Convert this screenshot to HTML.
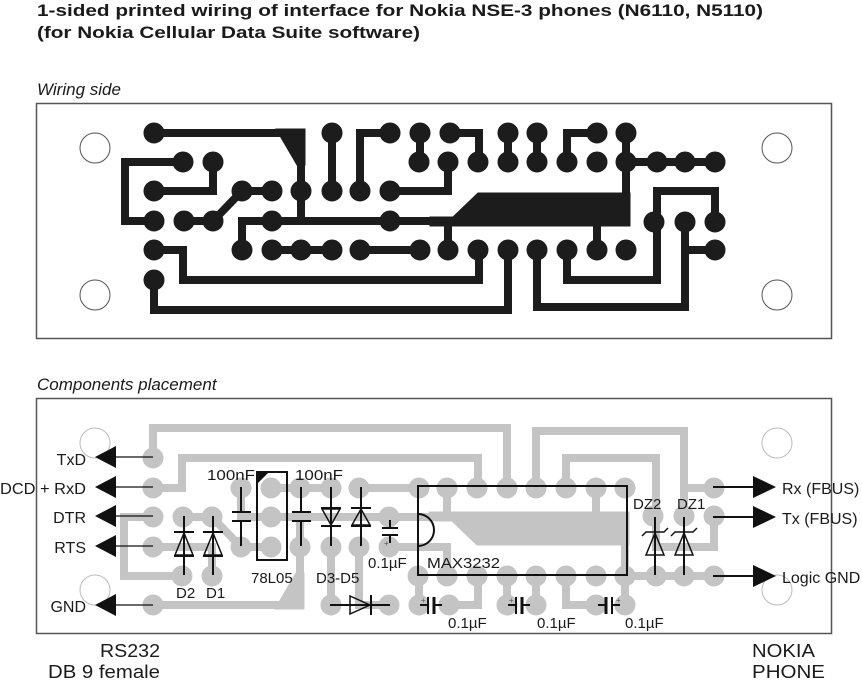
<!DOCTYPE html>
<html><head><meta charset="utf-8"><style>
html,body{margin:0;padding:0;background:#fff;}
svg{display:block;font-family:"Liberation Sans",Arial,sans-serif;}
</style></head><body>
<svg width="862" height="680" viewBox="0 0 862 680" xmlns="http://www.w3.org/2000/svg">
<defs>
<g id="pcb">
 <g fill="none" stroke-width="8" stroke-linejoin="miter">
  <polyline points="154,133 301,133 301,221"/>
  <polyline points="332,133 332,191"/>
  <polyline points="390,133 360,133 360,191"/>
  <polyline points="420,133 420,162"/>
  <polyline points="450,133 479,133 479,162"/>
  <polyline points="508,133 508,162"/>
  <polyline points="537,133 537,162"/>
  <polyline points="597,133 567,133 567,162"/>
  <polyline points="626,133 626,215"/>
  <polyline points="626,162 715,162"/>
  <polyline points="390,191 448,191 448,162"/>
  <polyline points="183,162 125,162 125,221 154,221"/>
  <polyline points="213,162 213,191 154,191"/>
  <polyline points="184,221 213,221 242,191 272,191"/>
  <polyline points="242,250 242,221 450,221"/>
  <polyline points="448,221 448,250"/>
  <polyline points="597,215 597,250"/>
  <polyline points="272,250 332,250"/>
  <polyline points="360,250 420,250"/>
  <polyline points="154,250 183,250 183,280 479,280 479,250"/>
  <polyline points="154,280 154,310 508,310 508,250"/>
  <polyline points="537,250 537,307 685,307 685,222"/>
  <polyline points="567,250 567,280 657,280 657,191 715,191 715,222"/>
  <polyline points="685,222 685,250 715,250"/>
 </g>
 <polygon points="276,129 305,129 305,165 297,165"/>
 <polygon points="453,217 478,193 630,193 630,226 430,226 430,217"/>
 <g>
  <circle cx="154" cy="133" r="10"/><circle cx="332" cy="133" r="10"/><circle cx="390" cy="133" r="10"/><circle cx="420" cy="133" r="10"/><circle cx="450" cy="133" r="10"/><circle cx="508" cy="133" r="10"/><circle cx="537" cy="133" r="10"/><circle cx="597" cy="133" r="10"/><circle cx="626" cy="133" r="10"/>
  <circle cx="183" cy="162" r="10"/><circle cx="213" cy="162" r="10"/><circle cx="419" cy="162" r="10"/><circle cx="448" cy="162" r="10"/><circle cx="478" cy="162" r="10"/><circle cx="508" cy="162" r="10"/><circle cx="537" cy="162" r="10"/><circle cx="567" cy="162" r="10"/><circle cx="597" cy="162" r="10"/><circle cx="626" cy="162" r="10"/><circle cx="657" cy="162" r="10"/><circle cx="685" cy="162" r="10"/><circle cx="715" cy="162" r="10"/>
  <circle cx="154" cy="191" r="10"/><circle cx="242" cy="191" r="10"/><circle cx="272" cy="191" r="10"/><circle cx="301" cy="191" r="10"/><circle cx="332" cy="191" r="10"/><circle cx="360" cy="191" r="10"/><circle cx="390" cy="191" r="10"/>
  <circle cx="154" cy="221" r="10"/><circle cx="184" cy="221" r="10"/><circle cx="213" cy="221" r="10"/><circle cx="272" cy="221" r="10"/><circle cx="390" cy="221" r="10"/><circle cx="654" cy="222" r="10"/><circle cx="685" cy="222" r="10"/><circle cx="715" cy="222" r="10"/>
  <circle cx="154" cy="250" r="10"/><circle cx="242" cy="250" r="10"/><circle cx="272" cy="250" r="10"/><circle cx="301" cy="250" r="10"/><circle cx="332" cy="250" r="10"/><circle cx="360" cy="250" r="10"/><circle cx="420" cy="250" r="10"/><circle cx="448" cy="250" r="10"/><circle cx="478" cy="250" r="10"/><circle cx="508" cy="250" r="10"/><circle cx="537" cy="250" r="10"/><circle cx="567" cy="250" r="10"/><circle cx="597" cy="250" r="10"/><circle cx="626" cy="250" r="10"/><circle cx="715" cy="250" r="10"/>
  <circle cx="154" cy="280" r="10"/>
 </g>
</g>
</defs>

<text x="37" y="16" font-size="17" font-weight="bold" fill="#1a1a1a" textLength="726" lengthAdjust="spacingAndGlyphs">1-sided printed wiring of interface for Nokia NSE-3 phones (N6110, N5110)</text>
<text x="37" y="38" font-size="17" font-weight="bold" fill="#1a1a1a" textLength="383" lengthAdjust="spacingAndGlyphs">(for Nokia Cellular Data Suite software)</text>
<text x="37" y="95" font-size="17" font-style="italic" fill="#1a1a1a">Wiring side</text>
<text x="37" y="390" font-size="17" font-style="italic" fill="#1a1a1a">Components placement</text>

<!-- top board -->
<rect x="36.5" y="103.5" width="795" height="235" fill="none" stroke="#555" stroke-width="1.5"/>
<g fill="none" stroke="#555" stroke-width="1"><circle cx="95" cy="148" r="15"/><circle cx="95" cy="295" r="15"/><circle cx="777" cy="148" r="15"/><circle cx="777" cy="295" r="15"/></g>
<use href="#pcb" fill="#1c1c1c" stroke="#1c1c1c"/>

<!-- bottom board -->
<rect x="36.5" y="398.5" width="795" height="235" fill="none" stroke="#555" stroke-width="1.5"/>
<g fill="none" stroke="#bbb" stroke-width="1"><circle cx="95" cy="443" r="15"/><circle cx="95" cy="590" r="15"/><circle cx="777" cy="443" r="15"/><circle cx="777" cy="590" r="15"/></g>
<g transform="translate(-1,738) scale(1,-1)"><use href="#pcb" fill="#c4c4c4" stroke="#c4c4c4"/></g>

<g stroke="#111" fill="none" stroke-width="1.3">
 <line x1="153" y1="457" x2="112" y2="457"/><line x1="153" y1="487" x2="112" y2="487"/><line x1="153" y1="516" x2="112" y2="516"/><line x1="153" y1="546" x2="112" y2="546"/><line x1="153" y1="605" x2="112" y2="605"/>
 <line x1="713" y1="487" x2="756" y2="487" stroke-width="2"/><line x1="713" y1="517" x2="756" y2="517" stroke-width="2"/><line x1="713" y1="576" x2="756" y2="576" stroke-width="2"/>
</g>
<g fill="#111">
 <polygon points="95,457 116,446 116,468"/><polygon points="95,487 116,476 116,498"/><polygon points="95,516 116,505 116,527"/><polygon points="95,546 116,535 116,557"/><polygon points="95,605 116,594 116,616"/>
 <polygon points="776,487 753,476 753,498"/><polygon points="776,517 753,506 753,528"/><polygon points="776,576 753,565 753,587"/>
</g>
<g font-size="16" fill="#1a1a1a" text-anchor="end">
 <text x="86" y="465">TxD</text><text x="86" y="494" textLength="86" lengthAdjust="spacingAndGlyphs">DCD + RxD</text><text x="86" y="523">DTR</text><text x="86" y="553">RTS</text><text x="86" y="612">GND</text>
</g>
<g font-size="16" fill="#1a1a1a">
 <text x="782" y="494">Rx (FBUS)</text><text x="782" y="524">Tx (FBUS)</text><text x="782" y="583">Logic GND</text>
</g>

<!-- components -->
<g stroke="#111" fill="none" stroke-width="2">
 <rect x="418" y="486" width="209" height="89"/>
 <path d="M418,514 A16,16 0 0 1 418,546"/>
 <rect x="257" y="472" width="30" height="88"/>
 <line x1="241" y1="487" x2="241" y2="512"/><line x1="241" y1="521" x2="241" y2="546"/>
 <line x1="232" y1="512" x2="251" y2="512"/><line x1="232" y1="521" x2="251" y2="521"/>
 <line x1="301" y1="487" x2="301" y2="512"/><line x1="301" y1="521" x2="301" y2="546"/>
 <line x1="292" y1="512" x2="311" y2="512"/><line x1="292" y1="521" x2="311" y2="521"/>
 <line x1="331" y1="487" x2="331" y2="546"/><line x1="321" y1="508" x2="341" y2="508"/>
 <polygon points="322,509 340,509 331,525" stroke-width="1.5"/><line x1="321" y1="526" x2="341" y2="526"/>
 <line x1="361" y1="487" x2="361" y2="546"/><line x1="351" y1="508" x2="371" y2="508"/>
 <polygon points="352,525 370,525 361,509" stroke-width="1.5"/><line x1="351" y1="526" x2="371" y2="526"/>
 <line x1="390" y1="520" x2="390" y2="528"/><line x1="390" y1="535" x2="390" y2="543"/>
 <line x1="382" y1="528" x2="398" y2="528"/><line x1="382" y1="535" x2="398" y2="535"/>
 <line x1="184" y1="516" x2="184" y2="575"/><line x1="174" y1="532" x2="194" y2="532"/>
 <polygon points="175,555 193,555 184,533" stroke-width="1.5"/><line x1="174" y1="556" x2="194" y2="556"/>
 <line x1="213" y1="516" x2="213" y2="575"/><line x1="203" y1="532" x2="223" y2="532"/>
 <polygon points="204,555 222,555 213,533" stroke-width="1.5"/><line x1="203" y1="556" x2="223" y2="556"/>
 <line x1="330" y1="605" x2="390" y2="605"/>
 <polygon points="350,596 350,614 370,605" stroke-width="1.5"/><line x1="371" y1="595" x2="371" y2="615"/>
 <line x1="420" y1="605" x2="427" y2="605"/><line x1="428" y1="597" x2="428" y2="614"/><line x1="434" y1="597" x2="434" y2="614" stroke-width="3"/><line x1="435" y1="605" x2="442" y2="605"/>
 <line x1="508" y1="605" x2="515" y2="605"/><line x1="516" y1="597" x2="516" y2="614"/><line x1="522" y1="597" x2="522" y2="614" stroke-width="3"/><line x1="523" y1="605" x2="530" y2="605"/>
 <line x1="598" y1="605" x2="605" y2="605"/><line x1="606" y1="597" x2="606" y2="614" stroke-width="3"/><line x1="612" y1="597" x2="612" y2="614"/><line x1="613" y1="605" x2="620" y2="605"/>
 <line x1="655" y1="517" x2="655" y2="575"/><polygon points="646,555 664,555 655,533" stroke-width="1.5"/>
 <polyline points="642,536 646,532 664,532 668,528" stroke-width="1.5"/>
 <line x1="684" y1="517" x2="684" y2="575"/><polygon points="675,555 693,555 684,533" stroke-width="1.5"/>
 <polyline points="671,536 675,532 693,532 697,528" stroke-width="1.5"/>
</g>
<polygon points="257,472 269,472 257,484" fill="#111"/>
<g font-size="8" fill="#555"><text x="384" y="546">+</text><text x="421" y="603">+</text><text x="509" y="603">+</text><text x="616" y="603">+</text></g>

<g font-size="15" fill="#1a1a1a">
 <text x="207" y="480" textLength="48" lengthAdjust="spacingAndGlyphs">100nF</text><text x="295" y="480" textLength="48" lengthAdjust="spacingAndGlyphs">100nF</text>
 <text x="368" y="568">0.1µF</text>
 <text x="427" y="568" textLength="73" lengthAdjust="spacingAndGlyphs">MAX3232</text>
 <text x="251" y="583">78L05</text><text x="316" y="583">D3-D5</text>
 <text x="176" y="598">D2</text><text x="206" y="598">D1</text>
 <text x="448" y="628">0.1µF</text><text x="537" y="628">0.1µF</text><text x="625" y="628">0.1µF</text>
 <text x="633" y="509">DZ2</text><text x="677" y="509">DZ1</text>
</g>
<g font-size="18" fill="#1a1a1a" text-anchor="end">
 <text x="160" y="657" textLength="60" lengthAdjust="spacingAndGlyphs">RS232</text><text x="160" y="678" textLength="112" lengthAdjust="spacingAndGlyphs">DB 9 female</text>
 <text x="815" y="657" textLength="63" lengthAdjust="spacingAndGlyphs">NOKIA</text><text x="825" y="678" textLength="73" lengthAdjust="spacingAndGlyphs">PHONE</text>
</g>
</svg>
</body></html>
